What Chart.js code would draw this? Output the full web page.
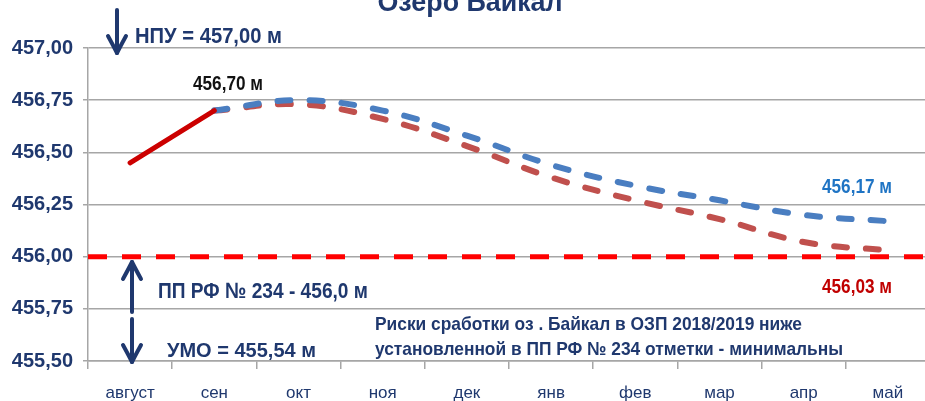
<!DOCTYPE html>
<html>
<head>
<meta charset="utf-8">
<script src="https://cdn.jsdelivr.net/npm/chart.js@4"></script>
<style>
html, body { margin: 0; padding: 0; background: #fff; overflow: hidden; }
#wrap { width: 925px; height: 401px; overflow: hidden; }
</style>
</head>
<body>
<div id="wrap"><canvas id="level" width="930" height="401"></canvas></div>
<script>
var months = ['август', 'сен', 'окт', 'ноя', 'дек', 'янв', 'фев', 'мар', 'апр', 'май'];
var actual = [456.45, 456.70, null, null, null, null, null, null, null, null];
var forecastHigh = [null, 456.70, 456.75, 456.70, 456.58, 456.44, 456.34, 456.27, 456.20, 456.17];
var forecastLow = [null, 456.70, 456.73, 456.66, 456.53, 456.38, 456.27, 456.18, 456.07, 456.03];
var yTicks = [455.50, 455.75, 456.00, 456.25, 456.50, 456.75, 457.00];
var limitLevel = 456.00;

var navy = '#1f386e';
var fontFamily = '"Liberation Sans", Arial, sans-serif';

function label(ctx, text, x, y, size, width, color) {
  ctx.font = 'bold ' + size + 'px ' + fontFamily;
  ctx.fillStyle = color;
  ctx.textAlign = 'left';
  ctx.textBaseline = 'alphabetic';
  ctx.fillText(text, x, y, width);
}

// arrow from tail y0 to tip y1
function arrow(ctx, x, y0, y1) {
  var dir = y1 > y0 ? 1 : -1;
  ctx.strokeStyle = navy;
  ctx.lineWidth = 4;
  ctx.lineCap = 'round';
  ctx.lineJoin = 'round';
  ctx.setLineDash([]);
  ctx.beginPath();
  ctx.moveTo(x, y0);
  ctx.lineTo(x, y1);
  ctx.stroke();
  ctx.beginPath();
  ctx.moveTo(x - 9, y1 - dir * 17);
  ctx.quadraticCurveTo(x - 3, y1 - dir * 6, x, y1);
  ctx.quadraticCurveTo(x + 3, y1 - dir * 6, x + 9, y1 - dir * 17);
  ctx.stroke();
}

var limitLine = {
  id: 'limitLine',
  beforeDatasetsDraw: function(chart) {
    var ctx = chart.ctx, area = chart.chartArea;
    var y = chart.scales.y.getPixelForValue(limitLevel);
    ctx.save();
    ctx.setLineDash([19, 15]);
    ctx.lineWidth = 5;
    ctx.lineCap = 'butt';
    ctx.strokeStyle = '#ff0000';
    ctx.beginPath();
    ctx.moveTo(area.left, y);
    ctx.lineTo(area.right, y);
    ctx.stroke();
    ctx.restore();
  }
};

var notes = {
  id: 'notes',
  afterDraw: function(chart) {
    var ctx = chart.ctx;
    ctx.save();
    ctx.font = 'bold 28px ' + fontFamily;
    ctx.fillStyle = navy;
    ctx.textAlign = 'center';
    ctx.textBaseline = 'alphabetic';
    ctx.fillText('Озеро Байкал', 470, 11, 185);

    label(ctx, 'НПУ = 457,00 м', 135, 43, 22, 147, navy);
    label(ctx, '456,70 м', 193, 90, 20, 70, '#111');
    label(ctx, '456,17 м', 822, 193, 20, 70, '#1f74c4');
    label(ctx, '456,03 м', 822, 293, 20, 70, '#c00000');
    label(ctx, 'ПП РФ № 234 - 456,0 м', 158, 298, 22, 210, navy);
    label(ctx, 'УМО = 455,54 м', 167, 357, 21, 149, navy);
    label(ctx, 'Риски сработки оз . Байкал в ОЗП 2018/2019 ниже', 375, 330, 19, 427, navy);
    label(ctx, 'установленной в ПП РФ № 234 отметки - минимальны', 375, 355, 19, 468, navy);

    arrow(ctx, 117, 10, 53);
    arrow(ctx, 132, 312, 262);
    arrow(ctx, 132, 319, 362);
    ctx.restore();
  }
};

var level = new Chart(document.getElementById('level'), {
  type: 'line',
  data: {
    labels: months,
    datasets: [{
      label: 'факт',
      data: actual,
      borderColor: 'rgb(204, 0, 0)',
      borderWidth: 5,
      borderCapStyle: 'round',
      pointRadius: 0,
      tension: 0
    }, {
      label: 'прогноз 1',
      data: forecastHigh,
      borderColor: 'rgb(74, 126, 193)',
      borderWidth: 6,
      borderDash: [13, 19],
      borderCapStyle: 'round',
      pointRadius: 0,
      tension: 0.4
    }, {
      label: 'прогноз 2',
      data: forecastLow,
      borderColor: 'rgb(192, 80, 77)',
      borderWidth: 6,
      borderDash: [13, 19],
      borderCapStyle: 'round',
      pointRadius: 0,
      tension: 0.4
    }]
  },
  options: {
    responsive: false,
    animation: false,
    layout: { padding: { top: 48, left: 0, right: 0, bottom: 0 } },
    plugins: {
      legend: { display: false },
      tooltip: { enabled: false },
      title: { display: false }
    },
    scales: {
      x: {
        offset: true,
        afterFit: function(scale) { scale.height = 40; },
        grid: { drawOnChartArea: false, offset: true, tickLength: 8, color: '#a6a6a6', lineWidth: 1.5 },
        border: { color: '#a6a6a6', width: 1.5 },
        ticks: {
          color: navy,
          padding: 14,
          maxRotation: 0,
          font: { family: fontFamily, size: 17 }
        }
      },
      y: {
        min: 455.5,
        max: 457,
        afterFit: function(scale) { scale.width = 88; },
        afterBuildTicks: function(scale) {
          scale.ticks = yTicks.map(function(v) { return { value: v }; });
        },
        grid: { tickLength: 5, color: '#a6a6a6', lineWidth: 1.5 },
        border: { color: '#a6a6a6', width: 1.5 },
        ticks: {
          color: navy,
          padding: 10,
          font: { family: fontFamily, size: 20, weight: 'bold' },
          callback: function(v) { return v.toFixed(2).replace('.', ','); }
        }
      }
    }
  },
  plugins: [limitLine, notes]
});
</script>
</body>
</html>
